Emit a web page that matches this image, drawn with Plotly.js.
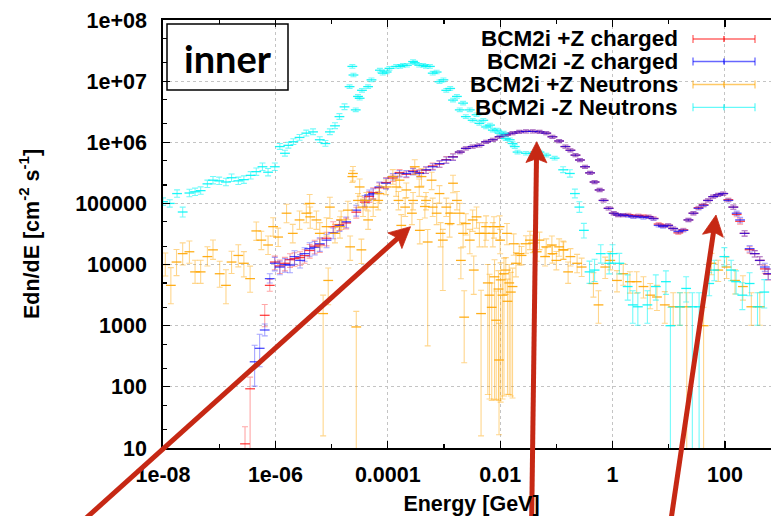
<!DOCTYPE html>
<html><head><meta charset="utf-8">
<script src="https://cdn.plot.ly/plotly-3.0.1.min.js"></script>
<style>html,body{margin:0;padding:0;overflow:hidden;background:#fff}#chart{width:780px;height:516px}</style>
</head><body><div id="chart"></div>
<script>
// ---------------- data ----------------
const seriesNames = ['BCM2i +Z charged', 'BCM2i -Z charged', 'BCM2i +Z Neutrons', 'BCM2i -Z Neutrons'];
const xTickVals = [1e-8, 1e-6, 1e-4, 1e-2, 1, 100];
const xTickText = ['1e-08', '1e-06', '0.0001', '0.01', '1', '100'];
const yTickVals = [10, 100, 1000, 1e4, 1e5, 1e6, 1e7, 1e8];
const yTickText = ['10', '100', '1000', '10000', '100000', '1e+06', '1e+07', '1e+08'];

// charged particles (energy in GeV), shared binning
const chargedEnergy = [9.77e-7,1.20e-6,1.48e-6,1.82e-6,2.19e-6,2.75e-6,3.31e-6,4.07e-6,5.01e-6,6.17e-6,8.13e-6,
  1.07e-5,1.38e-5,1.82e-5,2.75e-5,3.89e-5,4.68e-5,5.50e-5,7.08e-5,9.33e-5,
  1.23e-4,1.62e-4,2.14e-4,2.82e-4,3.63e-4,4.79e-4,6.31e-4,8.32e-4,1.10e-3,1.45e-3,
  1.91e-3,2.45e-3,3.24e-3,4.27e-3,5.62e-3,7.41e-3,9.77e-3,1.26e-2,1.66e-2,2.19e-2,
  2.88e-2,3.80e-2,5.01e-2,6.61e-2,8.51e-2,0.112,0.145,0.178,0.219,0.263,
  0.324,0.398,0.479,0.589,0.692,0.851,1.05,1.26,1.55,1.91,
  2.34,2.88,3.55,4.37,5.37,6.61,7.94,9.77,12.0,14.8,
  18.2,22.4,27.5,33.9,41.7,50.1,61.7,75.9,93.3,115,
  141,162,186,224,275,339,417,513,589];
const minusZCharged = [1.05e4,9.1e3,1.0e4,9.8e3,1.35e4,1.17e4,1.51e4,1.82e4,1.91e4,2.19e4,2.51e4,
  3.3e4,4.37e4,5.01e4,7.76e4,1.12e5,1.38e5,1.45e5,1.86e5,2.14e5,
  2.75e5,3.09e5,3.09e5,3.31e5,3.09e5,3.55e5,3.98e5,4.47e5,5.13e5,5.75e5,
  6.92e5,7.94e5,8.51e5,8.91e5,1.02e6,1.10e6,1.23e6,1.32e6,1.41e6,1.48e6,
  1.51e6,1.51e6,1.48e6,1.41e6,1.23e6,1.05e6,8.51e5,7.41e5,6.17e5,5.13e5,
  3.98e5,3.16e5,2.24e5,1.66e5,1.12e5,8.32e4,6.92e4,6.46e4,6.46e4,6.31e4,
  6.03e4,6.17e4,5.89e4,6.03e4,5.62e4,4.37e4,4.17e4,4.37e4,3.89e4,3.47e4,
  3.63e4,5.37e4,6.92e4,8.32e4,9.33e4,1.12e5,1.29e5,1.38e5,1.45e5,1.12e5,
  8.71e4,6.92e4,5.37e4,3.24e4,1.82e4,1.51e4,1.17e4,9.12e3,7.08e3];
const plusZCharged = [1.1e4,9.5e3,1.05e4,1.2e4,1.25e4,1.3e4,1.4e4,1.7e4,2.0e4,2.1e4,2.7e4,
  4.17e4,4.5e4,4.8e4,7.2e4,1.05e5,1.3e5,1.5e5,1.8e5,2.2e5,
  2.6e5,3.2e5,3.0e5,3.4e5,3.2e5,3.5e5,4.1e5,4.4e5,5.2e5,5.8e5,
  6.92e5,7.94e5,8.51e5,8.91e5,1.02e6,1.10e6,1.23e6,1.32e6,1.41e6,1.48e6,
  1.51e6,1.51e6,1.48e6,1.41e6,1.23e6,1.05e6,8.51e5,7.41e5,6.17e5,5.13e5,
  3.98e5,3.16e5,2.24e5,1.66e5,1.12e5,8.32e4,6.92e4,6.46e4,6.46e4,6.5e4,
  6.2e4,6.3e4,6.2e4,6.1e4,5.7e4,4.6e4,4.3e4,4.4e4,3.89e4,3.3e4,
  3.7e4,5.37e4,6.92e4,8.5e4,9.5e4,1.12e5,1.29e5,1.38e5,1.45e5,1.15e5,
  8.71e4,6.6e4,5.1e4,3.24e4,1.75e4,1.51e4,1.17e4,8.5e3,7.0e3];
const chargedErrRel = [0.25,0.25,0.25,0.25,0.25,0.25,0.25,0.25,0.25,0.25,0.25,
  0.2,0.2,0.2,0.2,0.2,0.2,0.2,0.2,0.2,
  0.12,0.12,0.12,0.12,0.12,0.12,0.12,0.12,0.12,0.12,
  0.06,0.06,0.06,0.06,0.06,0.06,0.06,0.06,0.06,0.06,
  0.06,0.06,0.06,0.06,0.06,0.06,0.06,0.06,0.06,0.06,
  0.06,0.06,0.06,0.06,0.06,0.06,0.06,0.06,0.06,0.06,
  0.06,0.06,0.06,0.06,0.06,0.06,0.06,0.06,0.06,0.06,
  0.06,0.06,0.06,0.06,0.06,0.06,0.06,0.06,0.06,0.06,
  0.08,0.08,0.1,0.1,0.12,0.12,0.15,0.15,0.2];
// low-energy tails of the charged spectra
const plusZChargedTailE = [2.88e-7, 3.55e-7, 6.46e-7, 7.94e-7];
const plusZChargedTail = [11.7, 93, 1480, 4570];
const plusZChargedTailHi = [0.9, 0.55, 0.5, 0.25];
const plusZChargedTailLo = [1, 0.9, 0.35, 0.2];
const minusZChargedTailE = [4.27e-7, 5.25e-7, 6.46e-7, 7.94e-7];
const minusZChargedTail = [257, 427, 851, 5890];
const minusZChargedTailHi = [0.86, 0.7, 0.25, 0.2];
const minusZChargedTailLo = [0.6, 0.5, 0.2, 0.15];

// +Z neutrons
const plusZNeutronE = [1.10e-8,1.38e-8,1.74e-8,2.24e-8,2.95e-8,3.72e-8,4.68e-8,6.17e-8,7.76e-8,1.02e-7,
  1.32e-7,1.66e-7,2.19e-7,2.75e-7,3.55e-7,4.57e-7,5.62e-7,7.41e-7,9.12e-7,1.12e-6,
  1.58e-6,2.04e-6,2.69e-6,3.55e-6,4.07e-6,5.37e-6,7.08e-6,8.13e-6,8.71e-6,1.15e-5,
  1.48e-5,1.95e-5,2.34e-5,2.75e-5,2.95e-5,3.39e-5,3.63e-5,4.17e-5,4.47e-5,5.50e-5,
  7.08e-5,9.33e-5,1.23e-4,1.62e-4,1.74e-4,2.14e-4,2.82e-4,3.63e-4,3.72e-4,4.79e-4,
  5.13e-4,6.31e-4,8.32e-4,9.55e-4,1.10e-3,1.26e-3,1.45e-3,1.91e-3,2.00e-3,2.29e-3,
  2.45e-3,3.24e-3,3.39e-3,4.27e-3,4.57e-3,5.62e-3,6.03e-3,6.46e-3,7.08e-3,7.41e-3,
  7.94e-3,8.51e-3,9.33e-3,9.55e-3,9.77e-3,1.02e-2,1.10e-2,1.17e-2,1.26e-2,1.35e-2,
  1.45e-2,1.55e-2,1.66e-2,1.91e-2,2.19e-2,2.88e-2,3.80e-2,5.01e-2,6.61e-2,8.51e-2,
  0.112,0.135,0.178,0.234,0.282,0.457,0.562,0.741,0.912,1.20,
  1.55,2.04,2.69,3.55,4.68,6.17,8.51,12.0,15.8,20.9,
  41.7,57.5,75.9,107,151,209,295,417,
  2.40e-5,3.16e-5,6.76e-5,1.41e-4,1.55e-4,2.04e-4,2.69e-4,3.02e-4,3.98e-4,4.57e-4,
  6.03e-4,7.41e-4,8.71e-4,1.29e-3,1.70e-3,2.19e-3,2.88e-3,3.80e-3,5.37e-3,7.76e-3,
  1.00e-2,1.32e-2,1.74e-2,4.17e-6,6.17e-6,9.33e-6,1.41e-5,2.14e-5,
  2.40e-2,3.39e-2,4.47e-2,6.31e-2,8.32e-2,0.100,0.132,0.162];
const plusZNeutron = [1.0e4,4.57e3,1.10e4,1.51e4,1.62e4,7.59e3,7.59e3,1.35e4,1.74e4,7.08e3,
  4.57e3,1.10e4,1.41e4,1.05e4,5.89e3,3.55e4,2.51e4,2.09e4,4.17e4,2.82e4,
  6.92e4,3.24e4,5.37e4,6.92e4,1.0e5,5.37e4,1.58e3,4.17e4,5.50e3,3.24e4,
  5.37e4,7.76e4,2.75e5,955,1.12e5,1.74e4,8.71e4,1.12e5,5.37e4,8.71e4,
  1.45e5,1.86e5,2.75e5,2.40e5,4.37e4,1.66e5,1.12e5,1.86e5,3.63e4,1.12e5,
  2.34e4,8.71e4,1.45e5,2.51e4,8.71e4,4.68e4,2.14e5,6.92e4,1.17e4,1.38e3,
  4.68e4,5.37e4,8.13e3,3.24e4,1.58e3,4.17e4,5.01e3,3.16e3,2.0e3,3.24e4,
  6.31e3,1.23e3,3.98e3,275,4.17e4,5.62e3,3.16e3,7.08e3,8.13e3,2.51e3,
  5.01e3,3.55e3,4.37e3,1.05e4,1.51e4,2.19e4,2.24e4,2.51e4,1.95e4,1.51e4,
  1.95e4,1.74e4,1.35e4,1.05e4,9.12e3,4.90e3,2.19e3,9.12e3,1.17e4,5.50e3,
  7.08e3,5.25e3,5.25e3,4.37e3,3.16e3,2.95e3,2.19e3,2.04e3,2.04e3,2.04e3,
  1.0e3,1.05e4,8.13e3,9.12e3,5.50e3,4.37e3,2.04e3,2.04e3,
  3.09e5,1.86e5,1.12e5,1.86e5,1.12e5,8.71e4,6.92e4,3.98e5,2.75e5,8.91e4,
  2.40e5,6.92e4,3.24e4,6.92e4,1.12e5,3.24e4,2.51e4,6.03e4,3.24e4,4.17e4,
  2.51e4,3.24e4,2.19e4,6.03e4,3.24e4,8.71e4,4.17e4,1.95e4,
  1.41e4,2.51e4,1.62e4,1.35e4,2.09e4,1.17e4,1.74e4,7.59e3];
const plusZNeutronLo = [0.35,0.5,0.4,0.35,0.35,0.35,0.35,0.3,0.3,0.4,
  0.5,0.35,0.35,0.4,0.4,0.3,0.3,0.3,0.3,0.3,
  0.3,0.3,0.3,0.3,0.3,0.3,0.99,0.3,0.6,0.3,
  0.3,0.3,0.2,1,0.25,0.4,0.3,0.3,0.3,0.3,
  0.3,0.25,0.25,0.25,0.4,0.25,0.3,0.3,0.4,0.3,
  0.98,0.3,0.3,0.85,0.3,0.4,0.3,0.35,0.5,0.82,
  0.35,0.35,0.6,0.4,0.99,0.4,0.985,0.98,0.97,0.4,
  0.99,0.95,0.985,0.94,0.4,0.99,0.98,0.99,0.6,0.97,
  0.985,0.98,0.985,0.4,0.35,0.3,0.3,0.3,0.3,0.3,
  0.3,0.3,0.3,0.3,0.3,0.4,0.5,0.35,0.3,0.35,
  0.35,0.35,0.35,0.35,0.4,0.4,0.5,0.5,0.5,1,
  1,0.35,0.35,0.35,0.4,0.4,0.5,0.5,
  0.25,0.3,0.3,0.3,0.3,0.3,0.35,0.25,0.3,0.35,
  0.3,0.35,0.4,0.35,0.3,0.4,0.4,0.35,0.4,0.35,
  0.4,0.35,0.35,0.35,0.4,0.35,0.35,0.4,
  0.3,0.3,0.3,0.3,0.3,0.3,0.3,0.35];
const plusZNeutronHi = [0.55,0.95,0.6,0.5,0.5,0.55,0.55,0.45,0.45,0.6,
  0.8,0.5,0.5,0.55,0.6,0.4,0.4,0.4,0.4,0.4,
  0.4,0.4,0.4,0.4,0.4,0.4,1.0,0.4,0.6,0.4,
  0.4,0.4,0.25,0.8,0.3,0.5,0.35,0.35,0.4,0.35,
  0.35,0.3,0.3,0.3,0.5,0.3,0.35,0.35,0.5,0.35,
  0.6,0.4,0.35,0.5,0.4,0.5,0.35,0.45,0.6,1.7,
  0.45,0.45,0.7,0.5,1.4,0.5,1.0,1.2,1.5,0.5,
  0.9,2.0,1.0,3.0,0.5,0.9,1.2,0.8,0.6,1.3,
  1.0,1.1,1.0,0.5,0.45,0.35,0.35,0.35,0.35,0.35,
  0.35,0.35,0.35,0.4,0.4,0.5,0.7,0.45,0.4,0.45,
  0.45,0.45,0.45,0.45,0.55,0.55,0.65,0.7,0.7,0.7,
  1.0,0.45,0.45,0.45,0.5,0.5,0.7,0.7,
  0.3,0.35,0.4,0.35,0.4,0.4,0.45,0.3,0.35,0.45,
  0.35,0.45,0.5,0.45,0.4,0.5,0.5,0.45,0.5,0.45,
  0.5,0.45,0.45,0.45,0.5,0.45,0.45,0.5,
  0.4,0.4,0.4,0.4,0.4,0.4,0.4,0.45];

// -Z neutrons
const minusZNeutronE = [1.00e-8,1.32e-8,1.78e-8,2.24e-8,2.95e-8,3.72e-8,4.68e-8,6.17e-8,7.76e-8,1.00e-7,
  1.32e-7,1.66e-7,2.19e-7,2.75e-7,3.63e-7,4.57e-7,5.89e-7,7.41e-7,9.77e-7,1.20e-6,
  1.48e-6,1.70e-6,2.09e-6,2.69e-6,3.55e-6,4.68e-6,6.17e-6,7.76e-6,9.33e-6,1.15e-5,
  1.38e-5,1.70e-5,2.09e-5,2.34e-5,2.45e-5,2.69e-5,2.95e-5,3.16e-5,3.47e-5,4.47e-5,
  5.13e-5,7.24e-5,8.13e-5,9.55e-5,1.07e-4,1.41e-4,1.66e-4,1.86e-4,2.19e-4,2.82e-4,
  3.02e-4,3.63e-4,4.27e-4,4.79e-4,5.62e-4,6.31e-4,7.41e-4,8.32e-4,9.77e-4,1.10e-3,
  1.29e-3,1.45e-3,1.70e-3,1.91e-3,2.19e-3,2.45e-3,2.88e-3,3.24e-3,3.80e-3,4.27e-3,
  5.01e-3,5.62e-3,6.61e-3,7.41e-3,8.71e-3,9.77e-3,1.15e-2,1.26e-2,1.48e-2,1.66e-2,
  1.82e-2,2.04e-2,2.88e-2,3.80e-2,5.01e-2,6.61e-2,9.33e-2,0.132,0.174,0.214,
  0.257,0.309,0.389,0.479,0.617,0.871,1.00,1.32,1.86,2.29,
  2.82,4.17,5.89,8.91,10.7,15.8,20.4,26.3,34.7,52.5,
  64.6,97.7,129,158,204,275,380,501];
const minusZNeutron = [1.07e5,1.00e5,1.45e5,7.24e4,1.48e5,1.55e5,1.62e5,2.09e5,2.40e5,2.34e5,
  2.24e5,2.63e5,2.34e5,2.45e5,2.88e5,3.31e5,3.98e5,3.24e5,3.98e5,8.51e5,
  6.61e5,8.91e5,1.02e6,1.20e6,1.41e6,1.48e6,1.10e6,9.55e5,1.48e6,1.86e6,
  2.63e6,3.80e6,8.13e6,1.74e7,1.26e7,3.39e6,5.62e6,5.25e6,7.08e6,8.13e6,
  1.05e7,1.51e7,1.35e7,1.41e7,1.62e7,1.74e7,1.74e7,1.82e7,1.82e7,2.09e7,
  2.00e7,1.82e7,1.82e7,1.74e7,1.74e7,1.35e7,1.41e7,9.77e6,1.05e7,7.08e6,
  7.59e6,4.90e6,5.62e6,3.39e6,4.37e6,2.63e6,3.39e6,2.29e6,2.82e6,2.04e6,
  2.29e6,1.78e6,1.91e6,1.58e6,1.58e6,1.41e6,1.41e6,1.15e6,1.10e6,9.55e5,
  8.51e5,6.92e5,6.61e5,6.61e5,6.92e5,6.17e5,5.50e5,3.55e5,3.09e5,1.45e5,
  8.71e4,3.63e4,7.59e3,8.13e3,1.51e4,1.05e4,1.51e4,1.05e4,4.37e3,2.19e3,
  2.04e3,2.19e3,4.37e3,5.25e3,1.0e3,2.04e3,4.07e3,2.04e3,2.04e3,4.90e3,
  8.13e3,1.35e4,8.13e3,5.25e3,3.16e3,4.90e3,2.04e3,3.55e3];
const minusZNeutronHi = [0.15,0.15,0.15,0.2,0.15,0.15,0.15,0.15,0.15,0.15,
  0.15,0.15,0.15,0.15,0.15,0.15,0.15,0.15,0.15,0.12,
  0.12,0.12,0.12,0.12,0.12,0.12,0.12,0.12,0.12,0.12,
  0.12,0.12,0.07,0.07,0.07,0.07,0.07,0.07,0.07,0.07,
  0.07,0.07,0.07,0.07,0.07,0.07,0.07,0.07,0.07,0.07,
  0.07,0.07,0.07,0.07,0.07,0.07,0.07,0.07,0.07,0.07,
  0.07,0.07,0.07,0.07,0.07,0.07,0.07,0.07,0.07,0.07,
  0.07,0.07,0.07,0.07,0.07,0.07,0.07,0.07,0.07,0.07,
  0.07,0.07,0.07,0.07,0.07,0.07,0.07,0.12,0.15,0.18,
  0.22,0.3,0.5,0.5,0.4,0.45,0.4,0.45,0.55,0.7,
  0.7,0.7,0.55,0.5,1.0,0.7,0.55,0.7,0.7,0.5,
  0.45,0.4,0.45,0.5,0.6,0.5,0.7,0.6];
const minusZNeutronLo = [0.13,0.13,0.13,0.17,0.13,0.13,0.13,0.13,0.13,0.13,
  0.13,0.13,0.13,0.13,0.13,0.13,0.13,0.13,0.13,0.1,
  0.1,0.1,0.1,0.1,0.1,0.1,0.1,0.1,0.1,0.1,
  0.1,0.1,0.065,0.065,0.065,0.065,0.065,0.065,0.065,0.065,
  0.065,0.065,0.065,0.065,0.065,0.065,0.065,0.065,0.065,0.065,
  0.065,0.065,0.065,0.065,0.065,0.065,0.065,0.065,0.065,0.065,
  0.065,0.065,0.065,0.065,0.065,0.065,0.065,0.065,0.065,0.065,
  0.065,0.065,0.065,0.065,0.065,0.065,0.065,0.065,0.065,0.065,
  0.065,0.065,0.065,0.065,0.065,0.065,0.065,0.1,0.13,0.15,
  0.18,0.25,0.35,0.35,0.3,0.33,0.3,0.33,0.4,0.5,
  0.5,0.5,0.4,0.38,1,0.5,0.4,1,1,0.37,
  0.33,0.3,0.33,0.37,0.42,0.37,0.5,0.45];

// ---------------- drawing ----------------
const W = 780, H = 516, L = 163, T = 20, B = 68;
const PW = W - L, PH = H - T - B;
const px = p => (p - L) / PW;           // pixel -> paper x
const py = p => (T + PH - p) / PH;      // pixel -> paper y
const FONT = 'Liberation Sans, Arial, Helvetica, sans-serif';

const colRed = '255,0,0', colBlue = '0,0,255', colOrange = '255,165,0', colCyan = '0,245,245';

function errTrace(name, e, v, hi, lo, rgb, mA, bA) {
  return {
    type: 'scatter', mode: 'markers', name: name, x: e, y: v,
    marker: {symbol: 'line-ew', size: 7, color: `rgba(${rgb},${mA})`, line: {width: 1.3, color: `rgba(${rgb},${mA})`}},
    error_y: {type: 'data', symmetric: false,
      array: v.map((y, i) => y * hi[i]), arrayminus: v.map((y, i) => y * lo[i]),
      color: `rgba(${rgb},${bA})`, thickness: 1.1, width: 3},
    hoverinfo: 'skip', showlegend: false
  };
}

const traces = [
  errTrace(seriesNames[0], plusZChargedTailE.concat(chargedEnergy), plusZChargedTail.concat(plusZCharged),
    plusZChargedTailHi.concat(chargedErrRel), plusZChargedTailLo.concat(chargedErrRel), colRed, 0.75, 0.35),
  errTrace(seriesNames[1], minusZChargedTailE.concat(chargedEnergy), minusZChargedTail.concat(minusZCharged),
    minusZChargedTailHi.concat(chargedErrRel), minusZChargedTailLo.concat(chargedErrRel), colBlue, 0.7, 0.35),
  errTrace(seriesNames[2], plusZNeutronE, plusZNeutron, plusZNeutronHi, plusZNeutronLo, colOrange, 0.9, 0.45),
  errTrace(seriesNames[3], minusZNeutronE, minusZNeutron, minusZNeutronHi, minusZNeutronLo, colCyan, 0.9, 0.55)
];

const yMinor = [];
for (let k = 1; k < 8; k++) { yMinor.push(2 * Math.pow(10, k), 5 * Math.pow(10, k)); }

const boldFont = {family: FONT, size: 21.5, color: '#000', weight: 'bold'};
const axisCommon = {
  type: 'log', ticks: 'inside', ticklen: 7, tickwidth: 1.2, tickcolor: '#000',
  showline: true, linecolor: '#000', linewidth: 1.8, mirror: 'ticks',
  showgrid: true, gridcolor: '#c4c4c4', griddash: 'dot', gridwidth: 1,
  zeroline: false, tickfont: boldFont, automargin: false, fixedrange: true
};

const shapes = [];
const annotations = [];
// "inner" box
shapes.push({type: 'rect', xref: 'paper', yref: 'paper', x0: px(167), x1: px(288), y0: py(90), y1: py(24),
  line: {color: '#000', width: 1.5}, fillcolor: 'rgba(255,255,255,0)', layer: 'above'});
annotations.push({xref: 'paper', yref: 'paper', x: px(227.5), y: py(58), xanchor: 'center', yanchor: 'middle',
  text: 'inner', showarrow: false, font: {family: 'Lato, Open Sans, sans-serif', size: 38, color: '#000', weight: 'bold'}});

// legend (manual, text right-aligned, sample to the right)
const legRows = [39, 61.5, 84.5, 107.3];
const legCols = [colRed, colBlue, colOrange, colCyan];
seriesNames.forEach((nm, i) => {
  const yy = legRows[i];
  annotations.push({xref: 'paper', yref: 'paper', x: px(680), y: py(yy), xanchor: 'right', yanchor: 'middle',
    text: nm, showarrow: false, font: {family: FONT, size: 22.5, color: '#000', weight: 'bold'}});
  const c = `rgba(${legCols[i]},0.6)`;
  shapes.push({type: 'line', xref: 'paper', yref: 'paper', x0: px(693), x1: px(755), y0: py(yy), y1: py(yy), line: {color: c, width: 1.3}});
  [693, 755].forEach(xx => shapes.push({type: 'line', xref: 'paper', yref: 'paper', x0: px(xx), x1: px(xx), y0: py(yy - 4), y1: py(yy + 4), line: {color: c, width: 1.3}}));
  shapes.push({type: 'line', xref: 'paper', yref: 'paper', x0: px(724), x1: px(724), y0: py(yy - 3), y1: py(yy + 3), line: {color: `rgba(${legCols[i]},0.85)`, width: 1.3}});
});

// red arrows drawn as shapes: [tipX, tipY, tailX, tailY] in pixels
const ARROW = '#c62814';
const arrowPix = [[410.5, 226.7, 76.5, 526.7], [536.7, 141.7, 531.5, 531.7], [716, 215, 669.5, 530]];
arrowPix.forEach(([hx, hy, tx, ty]) => {
  const dx = hx - tx, dy = hy - ty, len = Math.hypot(dx, dy);
  const ux = dx / len, uy = dy / len, nx = -uy, ny = ux;
  const bx = hx - 21 * ux, by = hy - 21 * uy;
  shapes.push({type: 'line', xref: 'paper', yref: 'paper', x0: px(tx), y0: py(ty), x1: px(hx - 14 * ux), y1: py(hy - 14 * uy),
    line: {color: ARROW, width: 5}, layer: 'above'});
  const path = `M ${px(hx)} ${py(hy)} L ${px(bx + 10.5 * nx)} ${py(by + 10.5 * ny)} L ${px(hx - 17 * ux)} ${py(hy - 17 * uy)} L ${px(bx - 10.5 * nx)} ${py(by - 10.5 * ny)} Z`;
  shapes.push({type: 'path', xref: 'paper', yref: 'paper', path: path, fillcolor: ARROW, line: {color: ARROW, width: 0.8}, layer: 'above'});
});

const layout = {
  width: W, height: H, margin: {l: L, r: 0, t: T, b: B},
  paper_bgcolor: '#fff', plot_bgcolor: '#fff', showlegend: false,
  xaxis: Object.assign({}, axisCommon, {range: [-8, 2.98], tickmode: 'array', tickvals: xTickVals, ticktext: xTickText,
    ticklabelstandoff: 6,
    title: {text: 'Energy [GeV]', font: boldFont, standoff: 12},
    minor: {tickmode: 'array', tickvals: [1e-7, 1e-5, 1e-3, 0.1, 10, 1000], ticks: 'inside', ticklen: 4, tickwidth: 1.2, tickcolor: '#000', showgrid: false}}),
  yaxis: Object.assign({}, axisCommon, {range: [1, 8], tickmode: 'array', tickvals: yTickVals, ticktext: yTickText,
    ticklabelstandoff: 10,
    title: {text: 'Edn/dE [cm<sup>-2</sup> s<sup>-1</sup>]', font: boldFont, standoff: 30},
    minor: {tickmode: 'array', tickvals: yMinor, ticks: 'inside', ticklen: 4, tickwidth: 1.2, tickcolor: '#000', showgrid: false}}),
  shapes: shapes, annotations: annotations
};

Plotly.newPlot('chart', traces, layout, {displayModeBar: false, staticPlot: true});
</script></body></html>
